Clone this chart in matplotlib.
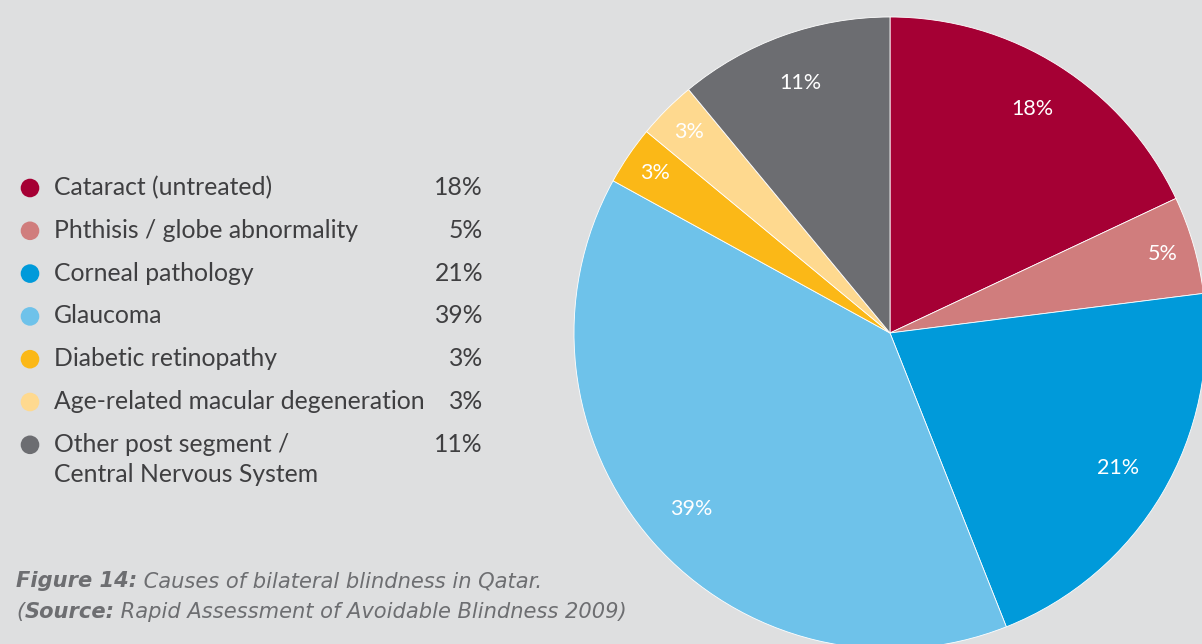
import matplotlib
matplotlib.use("Agg")
import matplotlib.pyplot as plt
from matplotlib.patches import Circle
import numpy as np

# Causes of bilateral blindness, share in percent
causes = [
    "Cataract (untreated)",
    "Phthisis / globe abnormality",
    "Corneal pathology",
    "Glaucoma",
    "Diabetic retinopathy",
    "Age-related macular degeneration",
    "Other post segment /\nCentral Nervous System",
]
shares = [18, 5, 21, 39, 3, 3, 11]
colours = ["#a50034", "#d07d7d", "#009ada", "#6ec2ea", "#fbb817", "#fed98f", "#6c6d71"]

caption_1 = [("Figure 14:", "bold"), (" Causes of bilateral blindness in Qatar.", "normal")]
caption_2 = [("(", "normal"), ("Source:", "bold"), (" Rapid Assessment of Avoidable Blindness 2009)", "normal")]

bg = "#dedfe0"
text_col = "#3f3f41"
cap_col = "#6d6e71"
plt.rcParams["font.family"] = ["Lato", "DejaVu Sans"]

W, H = 1202, 644
fig = plt.figure(figsize=(W / 100, H / 100), dpi=100)
fig.patch.set_facecolor(bg)

# pie, centred right and partly cut off by the figure edge
cx, cy, r = 890, 333, 316
ax = fig.add_axes([(cx - r) / W, (H - cy - r) / H, 2 * r / W, 2 * r / H])
wedges, _ = ax.pie(shares, colors=colours, startangle=90, counterclock=False,
                   wedgeprops=dict(linewidth=0.6, edgecolor="white"))
ax.set_xlim(-1, 1)
ax.set_ylim(-1, 1)
ax.set_aspect("equal")
ax.axis("off")

for w, s in zip(wedges, shares):
    mid = np.deg2rad((w.theta1 + w.theta2) / 2)
    rr = 0.9 if s <= 5 else 0.84
    ax.text(rr * np.cos(mid), rr * np.sin(mid), f"{s}%", color="white",
            fontsize=15.5, ha="center", va="center")

# overlay in pixel units for the legend and caption
ov = fig.add_axes([0, 0, 1, 1])
ov.set_xlim(0, W)
ov.set_ylim(H, 0)
ov.axis("off")
ov.patch.set_visible(False)

row0, step = 195, 42.8
for i, (name, s, c) in enumerate(zip(causes, shares, colours)):
    base = row0 + i * step
    ov.add_patch(Circle((30, base - 7), 9.3, color=c, lw=0))
    for j, line in enumerate(name.split("\n")):
        ov.text(54, base + j * 30, line, fontsize=17.8, color=text_col, va="baseline", ha="left")
    ov.text(483, base, f"{s}%", fontsize=17.8, color=text_col, va="baseline", ha="right")

# caption, mixing bold and regular italic pieces on one line
fig.canvas.draw()
renderer = fig.canvas.get_renderer()
for parts, y in ((caption_1, 587), (caption_2, 618)):
    x = 16
    for txt, weight in parts:
        t = ov.text(x, y, txt, fontsize=15.1, color=cap_col, style="italic",
                    weight=weight, va="baseline", ha="left", family="DejaVu Sans")
        x = t.get_window_extent(renderer).x1

fig.savefig("out.png", dpi=100, facecolor=bg)
